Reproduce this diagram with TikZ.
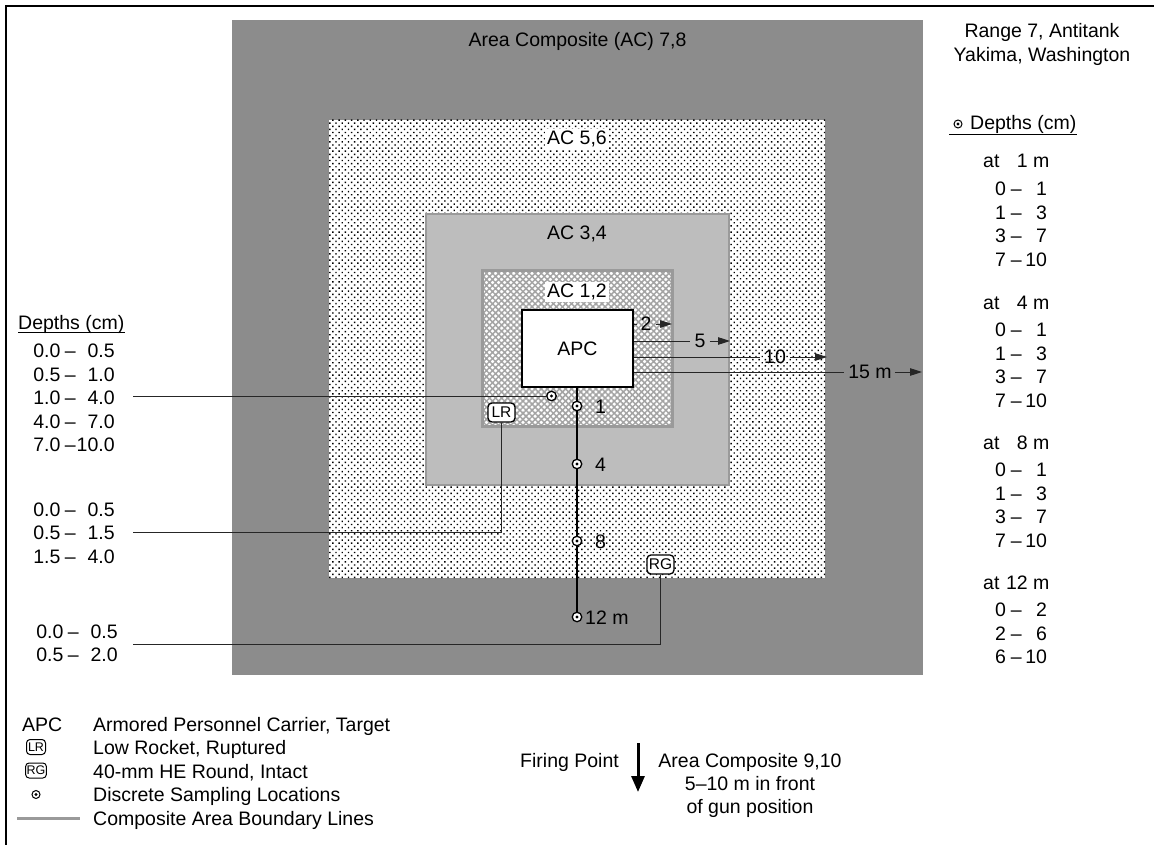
\documentclass[tikz,border=0pt]{standalone}
\usepackage{fontspec}
\setmainfont{Liberation Sans}
\usetikzlibrary{patterns.meta,arrows.meta}
\definecolor{acdark}{HTML}{8C8C8C}
\definecolor{aclight}{HTML}{BDBDBD}
\definecolor{acedge}{HTML}{9A9A9A}
\definecolor{hatchc}{HTML}{A4A4A4}
\newcommand{\lrow}[2]{\makebox[1.4em][r]{#1}\hspace{0.22em}--\makebox[2.0em][r]{#2}}
\newcommand{\rrow}[2]{\makebox[0.6em][r]{#1}\hspace{0.25em}--\makebox[1.3em][r]{#2}}
\newcommand{\atm}[1]{at\makebox[1.45em][r]{#1}\ m}
\begin{document}
\begin{tikzpicture}[x=1pt,y=-1pt,
  every node/.style={inner sep=0pt,font=\fontsize{19.5}{23.5}\selectfont},
  sampdot/.style={circle,draw=black,fill=white,line width=1.3pt,minimum size=9.5pt,inner sep=0pt,
    path picture={\fill[black] (path picture bounding box.center) circle (1.6pt);}},
  rtag/.style={draw=black,fill=white,rounded corners=4pt,line width=1.3pt,minimum width=27pt,minimum height=19pt,inner sep=1pt,font=\fontsize{15.5}{15.5}\selectfont},
  rtagsmall/.style={rtag,minimum width=19pt,minimum height=15pt,rounded corners=3.5pt,line width=1pt,font=\fontsize{12.5}{12.5}\selectfont},
  leadline/.style={draw=black!85,line width=1pt},
  distline/.style={draw=black!85,line width=1pt},
  distarrow/.style={distline,-{Triangle[length=12pt,width=7.5pt]}},
  bw/.style={anchor=base west}
]
\useasboundingbox (0,0) rectangle (1154,845);
\fill[white] (0,0) rectangle (1154,845);
\draw[line width=2.5pt] (6,845) -- (6,6) -- (1154,6);

% composite areas
\fill[acdark] (232,20) rectangle (923,675);
\fill[white] (329,120) rectangle (825,578);
\fill[pattern={Dots[distance=4.4pt,radius=1pt,angle=45]},pattern color=black] (329,120) rectangle (825,578);
\draw[acedge,line width=2.5pt,fill=aclight] (426,214) rectangle (729,485);
\fill[white] (482,270) rectangle (672,426);
\fill[pattern={Hatch[angle=45,distance=4.3pt,line width=1.5pt]},pattern color=hatchc] (482,270) rectangle (672,426);
\draw[acedge,line width=3pt] (482,270) rectangle (672,426);

\node[anchor=base] (lab78) at (577.5,47) {Area Composite (AC) 7,8};
\node[anchor=base,fill=white,inner sep=2pt] (lab56) at (577,145) {AC 5,6};
\node[anchor=base] (lab34) at (577,240) {AC 3,4};
\node[anchor=base,fill=white,inner sep=2pt] (lab12) at (577,298) {AC 1,2};

% APC
\node[draw=black,fill=white,line width=1.3pt,minimum width=111pt,minimum height=77pt] (apc) at (577.5,348.5) {APC};

% distances
\node (d2) at (646,324) {2};
\node (d5) at (700,341) {5};
\node (d10) at (775,357) {10};
\node (d15) at (870,372) {15 m};
\coordinate (t2) at (672,324);
\coordinate (t5) at (730,341);
\coordinate (t10) at (827,357);
\coordinate (t15) at (922,372);
\draw[distline] (apc.east |- d2) -- ([xshift=-3pt]d2.west);
\draw[distarrow] ([xshift=4pt]d2.east) -- (t2);
\draw[distline] (apc.east |- d5) -- ([xshift=-4pt]d5.west);
\draw[distarrow] ([xshift=4pt]d5.east) -- (t5);
\draw[distline] (apc.east |- d10) -- ([xshift=-4pt]d10.west);
\draw[distarrow] ([xshift=4pt]d10.east) -- (t10);
\draw[distline] (apc.east |- d15) -- ([xshift=-4pt]d15.west);
\draw[distarrow] ([xshift=3pt]d15.east) -- (t15);

% sampling points
\node[sampdot] (pa) at (551.5,396) {};
\node[sampdot] (p1) at (577,406) {};
\node[sampdot] (p4) at (577,464) {};
\node[sampdot] (p8) at (577,541) {};
\node[sampdot] (p12) at (577,617) {};
\draw[line width=2pt] (apc.south -| p1) -- (p1) -- (p4) -- (p8) -- (p12);
\node[bw] (l1) at (595,413) {1};
\node[bw] (l4) at (595,471) {4};
\node[bw] (l8) at (595,548) {8};
\node[bw] (l12) at (585,624) {12 m};

% munitions
\node[rtag] (lr) at (501.5,412.5) {LR};
\node[rtag] (rg) at (660.5,564.5) {RG};

% left depths
\node[bw] (ldh) at (18,329) {Depths (cm)};
\draw[line width=0.9pt] ([yshift=-3.5pt]ldh.base west) -- ([yshift=-3.5pt]ldh.base east);
\node[bw] (la1) at (33,357.5) {\lrow{0.0}{0.5}};
\node[bw] (la2) at (33,381) {\lrow{0.5}{1.0}};
\node[bw] (la3) at (33,404.5) {\lrow{1.0}{4.0}};
\node[bw] (la4) at (33,428) {\lrow{4.0}{7.0}};
\node[bw] (la5) at (33,451.5) {\lrow{7.0}{10.0}};
\node[bw] (lb1) at (33,516) {\lrow{0.0}{0.5}};
\node[bw] (lb2) at (33,539.5) {\lrow{0.5}{1.5}};
\node[bw] (lb3) at (33,563) {\lrow{1.5}{4.0}};
\node[bw] (lc1) at (36,638) {\lrow{0.0}{0.5}};
\node[bw] (lc2) at (36,661.5) {\lrow{0.5}{2.0}};
\coordinate (ca) at (133,396);
\coordinate (clr) at (133,532);
\coordinate (crg) at (133,644);
\draw[leadline] (ca) -- (pa);
\draw[leadline] (lr) |- (clr);
\draw[leadline] (rg) |- (crg);

% right column
\node[anchor=base] (title1) at (1042,38) {Range 7, Antitank};
\node[anchor=base] (title2) at (1042,61.5) {Yakima, Washington};
\node[sampdot,minimum size=8pt,line width=1pt] (rsym) at (958,124) {};
\node[bw] (rdh) at (970,130) {Depths (cm)};
\coordinate (rul) at (949,134);
\draw[line width=0.9pt] (rul) -- ([yshift=-4pt]rdh.base east);
\node[bw] (h1) at (983,168) {\atm{1}};
\node[bw] at (994,196) {\rrow{0}{1}};
\node[bw] at (994,219.5) {\rrow{1}{3}};
\node[bw] at (994,243) {\rrow{3}{7}};
\node[bw] at (994,266.5) {\rrow{7}{10}};
\node[bw] (h4) at (983,309) {\atm{4}};
\node[bw] at (994,336) {\rrow{0}{1}};
\node[bw] at (994,360) {\rrow{1}{3}};
\node[bw] at (994,383) {\rrow{3}{7}};
\node[bw] at (994,407) {\rrow{7}{10}};
\node[bw] (h8) at (983,449) {\atm{8}};
\node[bw] at (994,476) {\rrow{0}{1}};
\node[bw] at (994,500) {\rrow{1}{3}};
\node[bw] at (994,523) {\rrow{3}{7}};
\node[bw] at (994,547) {\rrow{7}{10}};
\node[bw] (h12) at (983,589) {\atm{12}};
\node[bw] at (994,616) {\rrow{0}{2}};
\node[bw] at (994,640) {\rrow{2}{6}};
\node[bw] at (994,663) {\rrow{6}{10}};

% legend
\node[bw] (lgapc) at (22,731) {APC};
\node[bw] (lgt1) at (93,731) {Armored Personnel Carrier, Target};
\node[rtagsmall] (lglr) at (36,747) {LR};
\node[bw] (lgt2) at (93,754.5) {Low Rocket, Ruptured};
\node[rtagsmall] (lgrg) at (36,770.5) {RG};
\node[bw] (lgt3) at (93,778) {40-mm HE Round, Intact};
\node[sampdot,minimum size=8pt,line width=1pt] (lgs) at (36,794.5) {};
\node[bw] (lgt4) at (93,801.5) {Discrete Sampling Locations};
\node[bw] (lgt5) at (93,825) {Composite Area Boundary Lines};
\coordinate (lgl1) at (17,818);
\coordinate (lgl2) at (80,818);
\draw[acedge,line width=3pt] (lgl1) -- (lgl2);

% firing point
\node[bw] (fp) at (520,767) {Firing Point};
\coordinate (fpa) at (638,743);
\coordinate (fpb) at (638,792);
\draw[line width=3pt,-{Triangle[length=16pt,width=13pt]}] (fpa) -- (fpb);
\node[anchor=base] (ac910a) at (750,767) {Area Composite 9,10};
\node[anchor=base] (ac910b) at (750,790) {5--10 m in front};
\node[anchor=base] (ac910c) at (750,813) {of gun position};
\end{tikzpicture}
\end{document}
